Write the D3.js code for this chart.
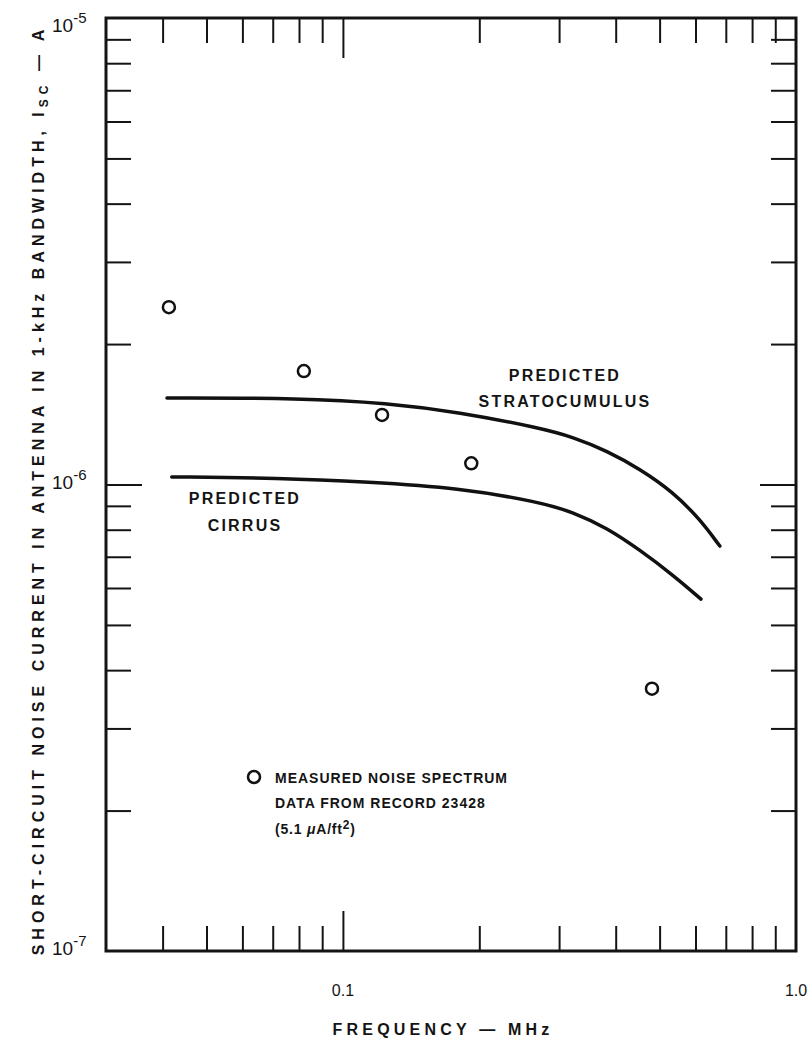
<!DOCTYPE html>
<html>
<head>
<meta charset="utf-8">
<script src="https://cdn.jsdelivr.net/npm/d3@7"></script>
<style>
  body { margin: 0; background: #fff; }
  text { font-family: "Liberation Sans", Arial, sans-serif; fill: #141414; }
</style>
</head>
<body>
<div id="chart"></div>
<script>
// measured noise spectrum (record 23428)
const measFreq = [0.0413, 0.082, 0.122, 0.192, 0.481];
const measCurrent = [2.40e-6, 1.75e-6, 1.41e-6, 1.11e-6, 3.65e-7];

// predicted curves
const stratoFreq = [0.0409, 0.0812, 0.125, 0.180, 0.272, 0.322, 0.383, 0.452, 0.535, 0.614, 0.679];
const stratoCurrent = [1.532e-6, 1.532e-6, 1.495e-6, 1.430e-6, 1.322e-6, 1.264e-6, 1.180e-6, 1.080e-6, 9.64e-7, 8.42e-7, 7.38e-7];

const cirrusFreq = [0.0419, 0.0722, 0.114, 0.180, 0.272, 0.322, 0.383, 0.452, 0.535, 0.617];
const cirrusCurrent = [1.038e-6, 1.033e-6, 1.012e-6, 9.83e-7, 9.17e-7, 8.73e-7, 8.07e-7, 7.24e-7, 6.40e-7, 5.68e-7];

// ticks
const xMajor = [0.1];
const xMinor = [0.04, 0.05, 0.06, 0.07, 0.08, 0.09, 0.2, 0.3, 0.4, 0.5, 0.6, 0.7, 0.8, 0.9];
const xLabels = ["0.1", "1.0"];
const xLabelValues = [0.1, 1.0];
const yMajor = [1e-6];
const yMinor = [2e-7, 3e-7, 4e-7, 5e-7, 6e-7, 7e-7, 8e-7, 9e-7,
                2e-6, 3e-6, 4e-6, 5e-6, 6e-6, 7e-6, 8e-6, 9e-6];
const yLabelExps = [-5, -6, -7];

const W = 812, H = 1044;
const mLeft = 106, mTop = 18, mRight = 796, mBottom = 951;

const svg = d3.select("#chart").append("svg")
  .attr("width", W)
  .attr("height", H);

const x = d3.scaleLog().domain([0.03, 1.0]).range([mLeft, mRight]);
const y = d3.scaleLog().domain([1e-7, 1e-5]).range([mBottom, mTop]);

// inward ticks on all four sides
function ticks(axis, vals, len, tx, ty) {
  svg.append("g")
    .attr("transform", "translate(" + tx + "," + ty + ")")
    .call(axis.tickValues(vals).tickSize(-len).tickFormat(""))
    .call(g => g.select(".domain").remove())
    .call(g => g.selectAll("line").attr("stroke", "#141414").attr("stroke-width", 2));
}
ticks(d3.axisBottom(x), xMinor, 25, 0, mBottom);
ticks(d3.axisBottom(x), xMajor, 40, 0, mBottom);
ticks(d3.axisTop(x), xMinor, 25, 0, mTop);
ticks(d3.axisTop(x), xMajor, 40, 0, mTop);
ticks(d3.axisLeft(y), yMinor, 25, mLeft, 0);
ticks(d3.axisLeft(y), yMajor, 36, mLeft, 0);
ticks(d3.axisRight(y), yMinor, 25, mRight, 0);
ticks(d3.axisRight(y), yMajor, 36, mRight, 0);

// frame
svg.append("rect")
  .attr("x", mLeft).attr("y", mTop)
  .attr("width", mRight - mLeft).attr("height", mBottom - mTop)
  .attr("fill", "none")
  .attr("stroke", "#141414")
  .attr("stroke-width", 3);

// y tick labels 10^n
yLabelExps.forEach(e => {
  const yy = y(Math.pow(10, e));
  const t = svg.append("text")
    .attr("x", 52)
    .attr("y", e == -5 ? yy + 14 : yy + 4)
    .attr("font-size", 19);
  t.append("tspan").text("10");
  t.append("tspan").attr("dy", -9).attr("font-size", 15).text("-" + (-e));
});

// x tick labels
svg.selectAll(".xlab")
  .data(xLabelValues)
  .enter()
  .append("text")
  .attr("x", d => x(d))
  .attr("y", 996)
  .attr("text-anchor", "middle")
  .attr("font-size", 16)
  .text((d, i) => xLabels[i]);

// axis titles
svg.append("text")
  .attr("x", 443)
  .attr("y", 1035)
  .attr("text-anchor", "middle")
  .attr("font-size", 16)
  .attr("font-weight", "bold")
  .attr("letter-spacing", 4.2)
  .text("FREQUENCY — MHz");

const yt = svg.append("text")
  .attr("transform", "translate(44," + 490 + ") rotate(-90)")
  .attr("text-anchor", "middle")
  .attr("font-size", 16)
  .attr("font-weight", "bold")
  .attr("letter-spacing", 5);
yt.append("tspan").text("SHORT-CIRCUIT NOISE CURRENT IN ANTENNA IN 1-kHz BANDWIDTH, I");
yt.append("tspan").attr("dy", 4).attr("font-size", 12).text("SC");
yt.append("tspan").attr("dy", -4).text(" — A");

// predicted curves
const line = d3.line()
  .x(d => x(d[0]))
  .y(d => y(d[1]))
  .curve(d3.curveBasis);

[[stratoFreq, stratoCurrent], [cirrusFreq, cirrusCurrent]].forEach(s => {
  svg.append("path")
    .datum(s[0].map((f, i) => [f, s[1][i]]))
    .attr("d", line)
    .attr("fill", "none")
    .attr("stroke", "#111")
    .attr("stroke-width", 3.5)
    .attr("stroke-linecap", "round");
});

// measured points
svg.selectAll(".pt")
  .data(measFreq)
  .enter()
  .append("circle")
  .attr("cx", d => x(d))
  .attr("cy", (d, i) => y(measCurrent[i]))
  .attr("r", 6)
  .attr("fill", "#fff")
  .attr("stroke", "#111")
  .attr("stroke-width", 2.5);

// curve labels
function label(lines, cx, y0, dy) {
  lines.forEach((s, i) => {
    svg.append("text")
      .attr("x", cx)
      .attr("y", y0 + i * dy)
      .attr("text-anchor", "middle")
      .attr("font-size", 16)
      .attr("font-weight", "bold")
      .attr("letter-spacing", 2.2)
      .text(s);
  });
}
label(["PREDICTED", "STRATOCUMULUS"], 565, 381, 26);
label(["PREDICTED", "CIRRUS"], 245, 504, 27);

// legend
svg.append("circle")
  .attr("cx", 254).attr("cy", 777).attr("r", 6)
  .attr("fill", "#fff").attr("stroke", "#111").attr("stroke-width", 2.5);

const legendLines = ["MEASURED NOISE SPECTRUM", "DATA FROM RECORD 23428"];
legendLines.forEach((s, i) => {
  svg.append("text")
    .attr("x", 275)
    .attr("y", 783 + i * 25)
    .attr("font-size", 14)
    .attr("font-weight", "bold")
    .attr("letter-spacing", 1)
    .text(s);
});
const l3 = svg.append("text")
  .attr("x", 275)
  .attr("y", 834)
  .attr("font-size", 14)
  .attr("font-weight", "bold")
  .attr("letter-spacing", 0.8);
l3.append("tspan").text("(5.1 ");
l3.append("tspan").attr("font-style", "italic").text("μ");
l3.append("tspan").text("A/ft");
l3.append("tspan").attr("dy", -5).attr("font-size", 12).text("2");
l3.append("tspan").attr("dy", 5).text(")");
</script>
</body>
</html>
